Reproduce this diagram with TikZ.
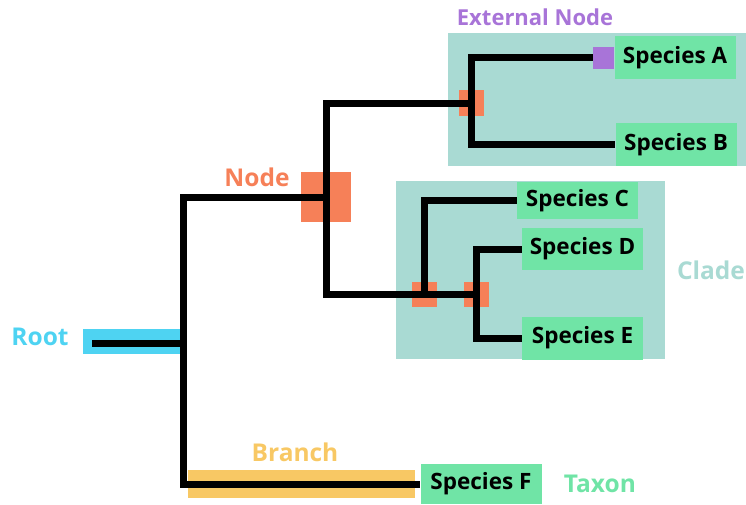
\documentclass[tikz,border=0pt]{standalone}
\usepackage{fontspec}
\setmainfont{Open Sans}
\usetikzlibrary{positioning}

\definecolor{cladecol}{RGB}{169,218,211}
\definecolor{taxoncol}{RGB}{112,228,166}
\definecolor{nodecol}{RGB}{246,128,88}
\definecolor{extcol}{RGB}{168,116,216}
\definecolor{rootcol}{RGB}{78,211,242}
\definecolor{branchcol}{RGB}{248,200,100}

\tikzset{
	cladebox/.style={fill=cladecol, draw=none, inner sep=0pt},
	species/.style={fill=taxoncol, text=black, inner sep=0pt, minimum width=121pt,
		font=\bfseries\fontsize{22.5}{26}\selectfont},
	nodemark/.style={fill=nodecol, inner sep=0pt},
	tree/.style={line width=7pt, black},
	lbl/.style={font=\bfseries\fontsize{24.5}{28}\selectfont, inner sep=0pt}
}

\begin{document}
\begin{tikzpicture}[x=1pt,y=-1pt]
	\useasboundingbox (0,0) rectangle (746,504);
	
	% The clades
	\node[cladebox, minimum width=298pt, minimum height=133pt] (cladeAB) at (597,99.5) {};
	\node[cladebox, minimum width=269pt, minimum height=178pt] (cladeCDE) at (530.5,270) {};
	
	% The taxa
	\foreach \name/\xx/\yy/\hh/\txt in {spA/675/57.5/43/A, spB/676/144.5/43/B,
		spC/577.5/200.5/37/C, spD/582.5/249/42/D, spE/582.5/338/43/E, spF/481/484/40/F}
	{
		\node[species, minimum height=\hh pt] (\name) at (\xx,\yy) {Species \txt};
	}
	
	% Root and branch bars
	\node[fill=rootcol, inner sep=0pt, minimum width=97pt, minimum height=25pt] (rootbar) at (131.5,341.5) {};
	\node[fill=branchcol, inner sep=0pt, minimum width=227pt, minimum height=28pt] (branchbar) at (301.5,484) {};
	
	% The internal nodes
	\node[nodemark, minimum size=50pt] (n1) at (326,197) {};
	\node[nodemark, minimum width=25pt, minimum height=26pt] (n2) at (471,103) {};
	\node[nodemark, minimum size=25pt] (n3) at (424.5,294.5) {};
	\node[nodemark, minimum size=25pt] (n4) at (476.5,294.5) {};
	
	% The tree
	\coordinate (r0) at (92,343);
	\coordinate (r1) at (183,343);
	\draw[tree] (r0) -- (r1);
	\draw[tree] (n1.center) -| (r1) |- (spF.west);
	\draw[tree] (n1.center) |- (n2.center) |- (spA.west);
	\draw[tree] (n2.center) |- (spB.west);
	\draw[tree] (n1.center) |- (n4.center);
	\draw[tree] (n3.center) |- (spC.west);
	\draw[tree] (n4.center) |- (spD.west);
	\draw[tree] (n4.center) |- (spE.west);
	
	% External node on top of the line
	\node[fill=extcol, inner sep=0pt, minimum width=21pt, minimum height=22pt, anchor=east] (ext) at (spA.west) {};
	
	% The labels
	\node[lbl, text=extcol, font=\bfseries\fontsize{22}{26}\selectfont] (extLabel) at (535,17) {External Node};
	\node[lbl, text=nodecol] (nodeLabel) at (257,177) {Node};
	\node[lbl, text=cladecol] (cladeLabel) at (711,270) {Clade};
	\node[lbl, text=rootcol] (rootLabel) at (40,337) {Root};
	\node[lbl, text=branchcol] (branchLabel) at (295,452) {Branch};
	\node[lbl, text=taxoncol, right=22pt of spF] (taxonLabel) {Taxon};
\end{tikzpicture}
\end{document}
